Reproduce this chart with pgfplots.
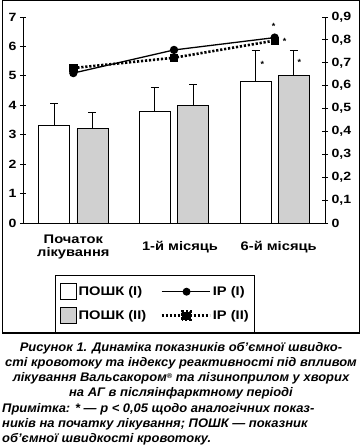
\documentclass[border=0pt]{standalone}
\usepackage{fontspec}
\setmainfont{Liberation Sans}
\newfontfamily\lblfont[FakeStretch=1.18]{Liberation Sans}
\newfontfamily\capfont[FakeStretch=1.04]{Liberation Sans}
\usepackage{pgfplots}
\pgfplotsset{compat=1.18}
\definecolor{bargrey}{RGB}{208,208,208}
\begin{document}
\begin{tikzpicture}[x=1bp,y=1bp]
\useasboundingbox (0,0) rectangle (362,447);
\draw[line width=1.1bp] (2.5,446.5) rectangle (359.5,114);
\begin{axis}[
  at={(23bp,224bp)}, anchor=south west,
  width=302bp, height=206bp, scale only axis,
  xmin=-0.5, xmax=2.5, ymin=0, ymax=7,
  axis x line*=bottom, axis y line*=left,
  axis line style={-, line width=0.8bp},
  xtick={0,1,2},
  xticklabels={{Початок\\лікування},{\hspace*{12bp}1-й місяць},{\hspace*{8bp}6-й місяць}},
  xticklabel style={align=center, anchor=center, yshift=-21bp, font=\lblfont\fontsize{12.5}{14}\selectfont\bfseries},
  major x tick style={draw=none},
  ytick={0,1,2,3,4,5,6,7},
  yticklabel style={font=\lblfont\fontsize{12}{14}\selectfont\bfseries, /pgf/number format/assume math mode=true},
  tick align=center, major tick length=6bp,
  every tick/.style={black, line width=0.8bp},
  clip=false,
]
\addplot[ybar, bar width=31bp, bar shift=0pt, fill=white, draw=black, line width=0.8bp,
  error bars/.cd, y dir=plus, y explicit,
  error bar style={line width=0.8bp, black},
  error mark options={rotate=90, mark size=4bp, line width=0.8bp, black}]
  coordinates {(-0.19,3.3) +- (0,0.75) (0.81,3.8) +- (0,0.82) (1.81,4.8) +- (0,1.07)};
\addplot[ybar, bar width=31bp, bar shift=0pt, fill=bargrey, draw=black, line width=0.8bp,
  error bars/.cd, y dir=plus, y explicit,
  error bar style={line width=0.8bp, black},
  error mark options={rotate=90, mark size=4bp, line width=0.8bp, black}]
  coordinates {(0.19,3.2) +- (0,0.57) (1.19,4.0) +- (0,0.72) (2.19,5.0) +- (0,0.87)};
\node[font=\fontsize{9}{9}\selectfont\bfseries] at (axis cs:1.878,5.38) {*};
\node[font=\fontsize{9}{9}\selectfont\bfseries] at (axis cs:2.246,5.45) {*};
\node[font=\fontsize{9}{9}\selectfont\bfseries] at (axis cs:1.99,6.67) {*};
\node[font=\fontsize{9}{9}\selectfont\bfseries] at (axis cs:2.10,6.16) {*};
\end{axis}
\begin{axis}[
  at={(23bp,224bp)}, anchor=south west,
  width=302bp, height=206bp, scale only axis,
  xmin=-0.5, xmax=2.5, ymin=0, ymax=0.9,
  axis y line*=right, axis x line=none,
  axis line style={-, line width=0.8bp},
  ytick={0,0.1,0.2,0.3,0.4,0.5,0.6,0.7,0.8,0.9},
  yticklabel style={font=\lblfont\fontsize{12}{14}\selectfont\bfseries, /pgf/number format/.cd, fixed, precision=1, use comma, assume math mode=true},
  tick align=center, major tick length=6bp,
  every tick/.style={black, line width=0.8bp},
  clip=false,
  legend columns=2,
  legend cell align=left,
  legend style={at={(0.107,-0.252)}, anchor=north west, draw=black, line width=0.8bp,
    font=\lblfont\fontsize{12.5}{14}\selectfont\bfseries, inner xsep=4bp, inner ysep=8bp,
    row sep=7bp,
    /tikz/every even column/.append style={column sep=12bp}},
]
\addlegendimage{legend image code/.code={\draw[fill=white, draw=black, line width=0.8bp] (0bp,-8bp) rectangle (16bp,8bp);}}
\addlegendentry{ПОШК (I)}
\addplot[black, line width=1.3bp, mark=*, mark size=3.5bp,
  legend image code/.code={\draw[black, line width=1.3bp] (0bp,0bp) -- (48bp,0bp); \fill[black] (25bp,0bp) circle (3.3bp);}]
  coordinates {(0,0.655) (1,0.756) (2,0.81)};
\addlegendentry{ІР (I)}
\addlegendimage{legend image code/.code={\draw[fill=bargrey, draw=black, line width=0.8bp] (0bp,-8bp) rectangle (16bp,8bp);}}
\addlegendentry{ПОШК (II)}
\addplot[black, line width=2.6bp, dash pattern=on 2.2bp off 1.8bp, mark=square*, mark size=3.6bp, mark options={solid, line width=0.5bp},
  legend image code/.code={\draw[black, line width=2.6bp, dash pattern=on 2.2bp off 1.8bp] (0bp,0bp) -- (48bp,0bp); \fill[black] (20.5bp,-4bp) rectangle (29bp,4bp);}]
  coordinates {(0,0.677) (1,0.722) (2,0.797)};
\addlegendentry{ІР (II)}
\end{axis}
\node[anchor=north, align=center, inner sep=0pt, font=\capfont\fontsize{12.5}{15.2}\selectfont\bfseries\itshape] at (181,447-342) {Рисунок 1. Динаміка показників об’ємної швидко-\\сті кровотоку та індексу реактивності під впливом\\лікування Вальсакором{\fontsize{7}{7}\selectfont\raisebox{3bp}{®}} та лізиноприлом у хворих\\на АГ в післяінфарктному періоді};
\node[anchor=north west, align=left, inner sep=0pt, font=\capfont\fontsize{12.5}{15.2}\selectfont\bfseries\itshape] at (2,447-403) {Примітка: * — p < 0,05 щодо аналогічних показ-\\ників на початку лікування; ПОШК — показник\\об’ємної швидкості кровотоку.};
\end{tikzpicture}
\end{document}
